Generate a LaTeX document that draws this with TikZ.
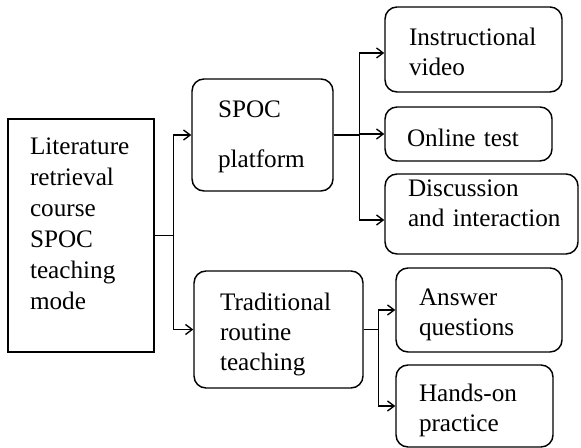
\documentclass[tikz,border=0pt]{standalone}
\usepackage{fontspec}
\setmainfont{Liberation Serif}
\usetikzlibrary{arrows.meta}

\begin{document}
\begin{tikzpicture}[x=0.75pt, y=-0.75pt,
    every node/.style={font=\fontsize{18.9}{22.5}\selectfont, align=left, inner ysep=0pt},
    block/.style={draw, line width=1.1pt, rounded corners=9pt},
    link/.style={line width=1pt, -{Straight Barb[length=5pt,width=7.5pt]}},
]
\useasboundingbox (0,0) rectangle (581,448);

    % root of the tree
    \node [draw, line width=1.1pt,
        minimum width=109.5pt,
        minimum height=174.75pt,
        text width=76.5pt, inner xsep=16.5pt,
        text height=0pt, text depth=120.75pt,
        font=\fontsize{18.9}{23.25}\selectfont,
    ] (root) at (81,235.5) {Literature\\retrieval\\course\\SPOC\\teaching\\mode};

    % SPOC platform
    \node [block,
        minimum width=105.75pt,
        minimum height=84pt,
        text width=66.75pt, inner xsep=19.5pt,
        text height=0pt, text depth=25.5pt,
    ] (spoc) at (262.5,135) {SPOC\\[15pt]platform};

    % traditional teaching
    \node [block,
        minimum width=126.75pt,
        minimum height=87.75pt,
        text width=87.75pt, inner xsep=19.5pt,
        text height=0pt, text depth=27.75pt,
    ] (trad) at (278.5,329.5) {Traditional\\routine\\teaching};

    % SPOC leaves
    \node [block,
        minimum width=132.75pt,
        minimum height=63.75pt,
        text width=96.75pt, inner xsep=18pt,
        text height=0pt, text depth=5.25pt,
    ] (video) at (473.5,49.5) {Instructional\\video};

    \node [block,
        minimum width=125.25pt,
        minimum height=40.5pt,
        text width=92.25pt, inner xsep=16.5pt,
        text height=19.5pt, text depth=0pt,
    ] (test) at (468.5,134) {Online test};

    \node [block,
        minimum width=144.75pt,
        minimum height=60pt,
        text width=110.25pt, inner xsep=17.25pt,
        text height=0pt, text depth=25.5pt,
    ] (disc) at (481.5,214) {Discussion\\\mbox{and interaction}};

    % traditional leaves
    \node [block,
        minimum width=124.5pt,
        minimum height=63pt,
        text width=90pt, inner xsep=17.25pt,
        text height=0pt, text depth=6pt,
    ] (answer) at (479,310) {Answer\\questions};

    \node [block,
        minimum width=117.75pt,
        minimum height=61.5pt,
        text width=83.25pt, inner xsep=17.25pt,
        text height=0pt, text depth=6pt,
    ] (hands) at (474.5,406) {Hands-on\\practice};

    % connectors
    \draw [link] (root.east) -- ++(19,0) |- (spoc.west);
    \draw [link] (root.east) -- ++(19,0) |- (trad.west);

    \draw [link] (spoc.east) -- ++(26,0) |- ([yshift=-2.6pt]video.west);
    \draw [link] (spoc.east) -- ++(26,0) |- (test.west);
    \draw [link] (spoc.east) -- ++(26,0) |- ([yshift=-4.5pt]disc.west);

    \draw [link] (trad.east) -- ++(15,0) |- (answer.west);
    \draw [link] (trad.east) -- ++(15,0) |- (hands.west);
\end{tikzpicture}
\end{document}
